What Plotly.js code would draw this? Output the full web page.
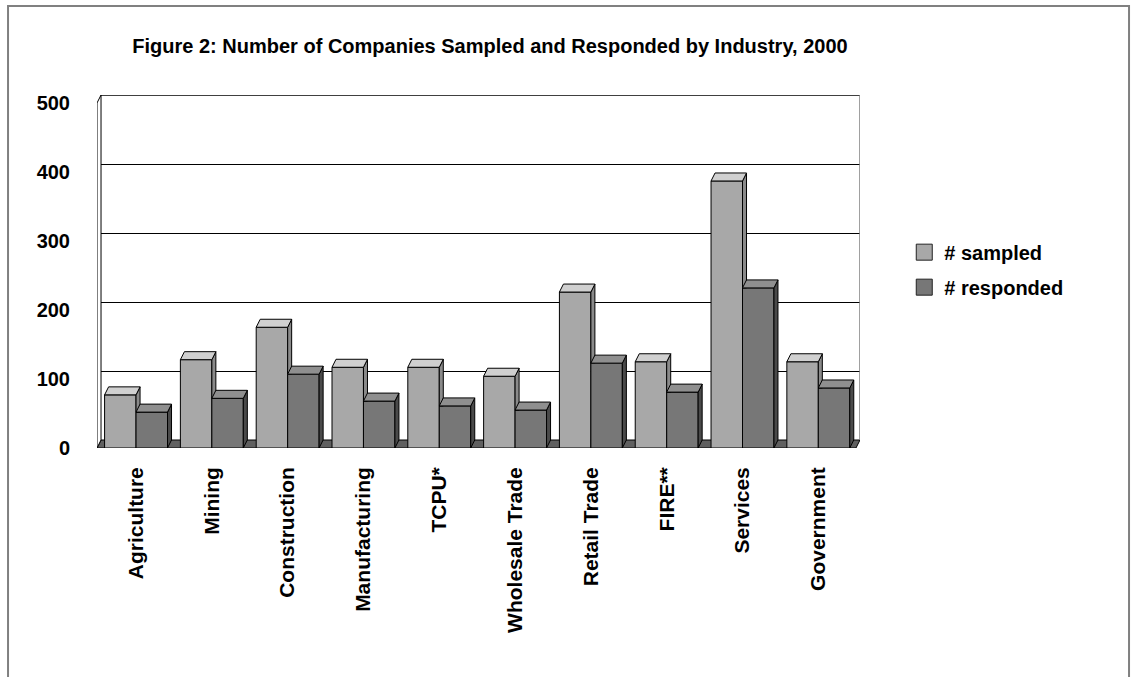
<!DOCTYPE html>
<html>
<head>
<meta charset="utf-8">
<script src="https://cdn.plot.ly/plotly-3.0.1.min.js"></script>
<style>html,body{margin:0;padding:0;background:#fff;}#chart{width:1135px;height:677px;}</style>
</head>
<body>
<div id="chart"></div>
<script>
// ---- data ----
const categories = ["Agriculture", "Mining", "Construction", "Manufacturing", "TCPU*",
  "Wholesale Trade", "Retail Trade", "FIRE**", "Services", "Government"];
const sampled   = [77, 128, 175, 117, 117, 104, 226, 125, 387, 125];
const responded = [52,  72, 107,  68,  61,  55, 123,  81, 232,  87];
const seriesNames = ["# sampled", "# responded"];
const yTicks = [0, 100, 200, 300, 400, 500];
const titleText = "Figure 2: Number of Companies Sampled and Responded by Industry, 2000";

// ---- geometry / style ----
const BAR_W = 0.415, DX = 0.053, DY = 11.6;
const XMIN = -0.515, XMAX = 9.55, YMAX = 500;
const FONT = "Liberation Sans, Arial, sans-serif";
const C = {
  sFront: "#a8a8a8", sCap: "#d0d0d0", sSide: "#8a8a8a",
  rFront: "#777777", rCap: "#8f8f8f", rSide: "#4a4a4a",
  floor: "#606060"
};
const idx = categories.map((_, i) => i);

function capPoly(vals, off) {
  const xs = [], ys = [];
  vals.forEach((v, i) => {
    const x0 = i + off, x1 = x0 + BAR_W;
    xs.push(x0, x1, x1 + DX, x0 + DX, x0, null);
    ys.push(v, v, v + DY, v + DY, v, null);
  });
  return {xs, ys};
}
// visible part of the sampled bar's side (above the responded bar)
const sSide = {xs: [], ys: []};
sampled.forEach((s, i) => {
  const r = responded[i], x1 = i;
  if (s > r) {
    sSide.xs.push(x1, x1, x1 + DX, x1 + DX, x1, null);
    sSide.ys.push(r, s, s + DY, r, r, null);
  }
});
const rSide = {xs: [], ys: []};
responded.forEach((r, i) => {
  const x2 = i + BAR_W;
  rSide.xs.push(x2, x2, x2 + DX, x2 + DX, x2, null);
  rSide.ys.push(0, r, r + DY, DY, 0, null);
});
const sCap = capPoly(sampled, -BAR_W);
const rCap = capPoly(responded, 0);

const line1 = {color: "#000", width: 1};
function poly(p, fill, axes) {
  return Object.assign({type: "scatter", mode: "lines", x: p.xs, y: p.ys, fill: "toself",
    fillcolor: fill, line: line1, hoverinfo: "skip", showlegend: false}, axes);
}
const OV = {xaxis: "x2", yaxis: "y2"};

const traces = [
  // base subplot: floor, left wall, back wall edges
  poly({xs: [XMIN, XMAX - DX, XMAX, XMIN + DX, XMIN], ys: [-DY, -DY, 0, 0, -DY]}, C.floor, {}),
  poly({xs: [XMIN, XMIN + DX, XMIN + DX, XMIN, XMIN], ys: [-DY, 0, YMAX, YMAX - DY, -DY]}, "#ffffff", {}),
  {type: "scatter", mode: "lines", x: [XMIN + DX, XMAX], y: [YMAX, YMAX], line: {color: "#000", width: 1.5},
   hoverinfo: "skip", showlegend: false, cliponaxis: false},
  {type: "scatter", mode: "lines", x: [XMAX, XMAX], y: [0, YMAX], line: {color: "#808080", width: 1.5},
   hoverinfo: "skip", showlegend: false, cliponaxis: false},
  // bars (overlay subplot, front plane)
  {type: "bar", name: seriesNames[0], x: idx, y: sampled, width: BAR_W, offset: -BAR_W,
   marker: {color: C.sFront, line: line1}, showlegend: false, xaxis: "x2", yaxis: "y2"},
  {type: "bar", name: seriesNames[1], x: idx, y: responded, width: BAR_W, offset: 0,
   marker: {color: C.rFront, line: line1}, showlegend: false, xaxis: "x2", yaxis: "y2"},
  poly(sSide, C.sSide, OV),
  poly(rSide, C.rSide, OV),
  poly(sCap, C.sCap, OV),
  poly(rCap, C.rCap, OV),
  // legend entries
  {type: "scatter", mode: "markers", name: seriesNames[0], x: [null], y: [null], legendgroup: "a",
   marker: {symbol: "square", size: 16, color: C.sFront, line: {color: "#222", width: 1}}, xaxis: "x2", yaxis: "y2"},
  {type: "scatter", mode: "markers", name: seriesNames[1], x: [null], y: [null], legendgroup: "b",
   marker: {symbol: "square", size: 16, color: C.rFront, line: {color: "#222", width: 1}}, xaxis: "x2", yaxis: "y2"}
];

const layout = {
  width: 1135, height: 677,
  margin: {l: 97, r: 275, t: 95, b: 229, pad: 0},
  paper_bgcolor: "#ffffff", plot_bgcolor: "#ffffff",
  font: {family: FONT, color: "#000", size: 18},
  title: {text: titleText, x: 0.4317, xanchor: "center", y: 0.932, yanchor: "middle",
          font: {family: FONT, size: 20, weight: "bold", color: "#000"}},
  showlegend: true,
  legend: {x: 1.058, xanchor: "left", y: 0.61, yanchor: "top", tracegroupgap: 6,
           font: {family: FONT, size: 20, weight: "bold"}, bgcolor: "rgba(0,0,0,0)"},
  bargap: 0,
  xaxis: {range: [XMIN, XMAX], tickmode: "array", tickvals: idx, ticktext: categories,
          tickangle: -90, ticks: "", showgrid: false, zeroline: false, showline: false,
          ticklabelstandoff: 14, tickfont: {family: FONT, size: 21, weight: "bold"}},
  yaxis: {range: [-DY, YMAX], tickmode: "array", tickvals: yTicks, showticklabels: false,
          showgrid: true, gridcolor: "#000", gridwidth: 1, zeroline: false, showline: false, ticks: ""},
  xaxis2: {overlaying: "x", range: [XMIN, XMAX], visible: false},
  yaxis2: {overlaying: "y", side: "left", range: [0, YMAX + DY], tickmode: "array", tickvals: yTicks,
           showgrid: false, zeroline: false, showline: false, ticks: "", ticklabelstandoff: 26,
           tickfont: {family: FONT, size: 20, weight: "bold"}},
  shapes: [
    {type: "rect", xref: "paper", yref: "paper", x0: -0.1166, x1: 1.3526, y0: -0.7, y1: 1.252,
     line: {color: "#808080", width: 2}, fillcolor: "rgba(0,0,0,0)", layer: "below"}
  ]
};

Plotly.newPlot("chart", traces, layout, {displayModeBar: false, staticPlot: true});
</script>
</body>
</html>
